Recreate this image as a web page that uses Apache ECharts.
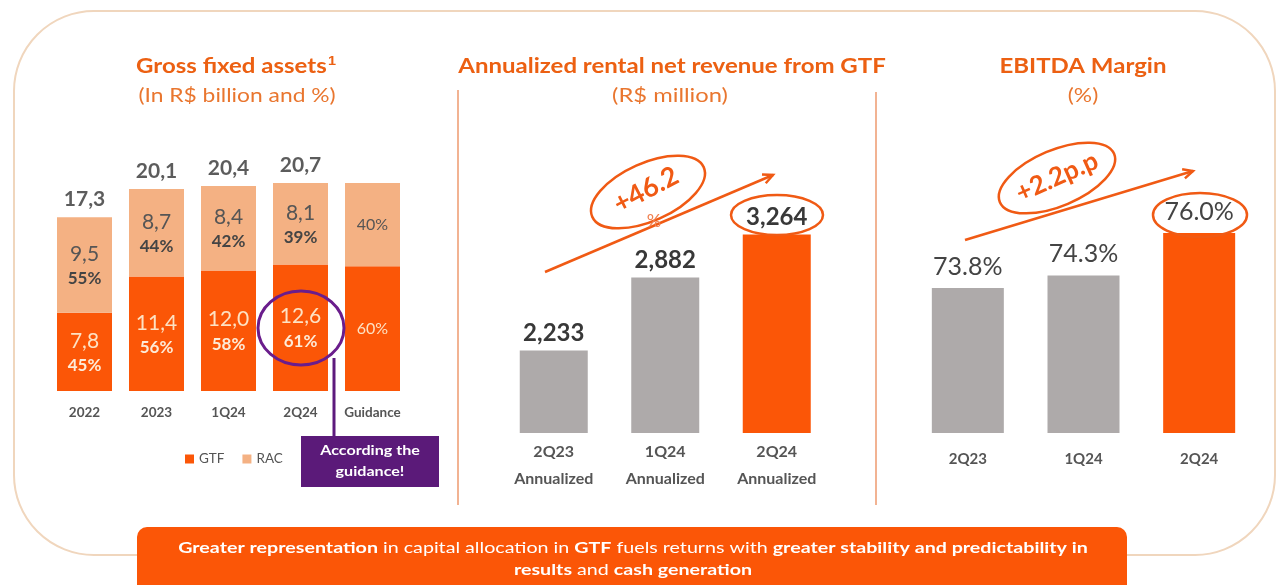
<!DOCTYPE html>
<html>
<head>
<meta charset="utf-8">
<script src="https://cdn.jsdelivr.net/npm/echarts@6/dist/echarts.min.js"></script>
<style>
  html, body { margin: 0; padding: 0; background: #fff; }
  #main { width: 1279px; height: 585px; }
</style>
</head>
<body>
<div id="main"></div>
<script>
// gross fixed assets (R$ billion)
var assetCats = ['2022', '2023', '1Q24', '2Q24', 'Guidance'];
var gtfValues = [7.8, 11.4, 12.0, 12.6, 12.42];
var racValues = [9.5, 8.7, 8.4, 8.1, 8.28];
var gtfPct = ['45%', '56%', '58%', '61%', '60%'];
var racPct = ['55%', '44%', '42%', '39%', '40%'];
var assetTotals = [17.3, 20.1, 20.4, 20.7, '-'];

// annualized rental net revenue (R$ million)
var revCats = ['2Q23', '1Q24', '2Q24'];
var revValues = [2233, 2882, 3264];

// ebitda margin (%)
var marginCats = ['2Q23', '1Q24', '2Q24'];
var marginValues = [73.8, 74.3, 76.0];

var ORANGE = '#fb5607';
var PEACH = '#f4b183';
var GREY = '#aeaaaa';
var TITLE = '#ec6012';
var FONT = 'Lato, "Open Sans", sans-serif';

function comma(v) { return Number(v).toFixed(1).replace('.', ','); }
function thousands(v) { return String(v).replace(/\B(?=(\d{3})+(?!\d))/g, ','); }

var chart = echarts.init(document.getElementById('main'));

// arrow helper: line + head
function arrow(x1, y1, x2, y2) {
    var a = Math.atan2(y2 - y1, x2 - x1), L = 11, w = 0.45;
    return [
        { type: 'line', shape: { x1: x1, y1: y1, x2: x2, y2: y2 }, style: { stroke: '#f05a14', lineWidth: 2.5 }, z: 20 },
        { type: 'polyline', shape: { points: [
            [x2 - L * Math.cos(a - w), y2 - L * Math.sin(a - w)], [x2, y2],
            [x2 - L * Math.cos(a + w), y2 - L * Math.sin(a + w)]] },
          style: { stroke: '#f05a14', lineWidth: 2.5, fill: null }, z: 20 }
    ];
}
function ring(cx, cy, rx, ry, rot, color, lw) {
    return { type: 'ellipse', x: cx, y: cy, rotation: rot, shape: { cx: 0, cy: 0, rx: rx, ry: ry },
        style: { fill: null, stroke: color, lineWidth: lw }, z: 20 };
}
// text that is a bit wider than the font, like the source slide
function wideText(x, y, text, font, fill, sx, extra) {
    var el = { type: 'text', x: x, y: y, scaleX: sx || 1.2, z: 21,
        style: Object.assign({ text: text, font: font, fill: fill, align: 'center', verticalAlign: 'middle' }, extra || {}) };
    return el;
}

var graphics = [
    // outer frame
    { type: 'rect', shape: { x: 14, y: 11, width: 1261, height: 544, r: 80 },
      style: { fill: null, stroke: '#f0d6bd', lineWidth: 2 }, z: 0 },
    // separators
    { type: 'line', shape: { x1: 458, y1: 90, x2: 458, y2: 505 }, style: { stroke: '#e9804a', lineWidth: 1.2 } },
    { type: 'line', shape: { x1: 876, y1: 92, x2: 876, y2: 505 }, style: { stroke: '#e9804a', lineWidth: 1.2 } },
    // titles
    wideText(236, 67, 'Gross fixed assets{s|1}', 'bold 20px ' + FONT, TITLE, 1.2,
        { rich: { s: { fontSize: 12, fontWeight: 'bold', fill: TITLE, verticalAlign: 'top', padding: [0, 0, 10, 1] } } }),
    wideText(237, 96, '(In R$ billion and %)', '19px ' + FONT, '#e9762f', 1.2),
    wideText(672, 67, 'Annualized rental net revenue from GTF', 'bold 20px ' + FONT, TITLE, 1.2),
    wideText(670, 96, '(R$ million)', '19px ' + FONT, '#e9762f', 1.25),
    wideText(1083, 67, 'EBITDA Margin', 'bold 20px ' + FONT, TITLE, 1.2),
    wideText(1083, 96, '(%)', '19px ' + FONT, '#e9762f', 1.2),
    // middle annotation
    ring(648, 192, 61, 29, 0.42, '#f05a14', 2.5),
    { type: 'text', x: 646, y: 190, rotation: 0.48, style: { text: '+46.2', font: 'bold 27px ' + FONT, fill: '#f05a14', align: 'center', verticalAlign: 'middle' }, z: 21 },
    { type: 'text', x: 654, y: 221, style: { text: '%', font: '18px ' + FONT, fill: '#f08050', align: 'center', verticalAlign: 'middle' }, z: 21 },
    ring(777, 215, 46, 20, 0, '#f05a14', 2.5),
    // right annotation
    ring(1057, 178, 62, 28, 0.4, '#f05a14', 2.5),
    { type: 'text', x: 1057, y: 177, rotation: 0.42, style: { text: '+2.2p.p', font: 'bold 26px ' + FONT, fill: '#f05a14', align: 'center', verticalAlign: 'middle' }, z: 21 },
    ring(1200, 215, 47, 22, 0, '#f05a14', 2.5),
    // purple callout
    ring(301, 328, 43, 37, 0, '#6a1d8c', 3),
    { type: 'line', shape: { x1: 334, y1: 358, x2: 334, y2: 437 }, style: { stroke: '#5d1a7d', lineWidth: 3 }, z: 20 },
    { type: 'rect', shape: { x: 301, y: 436, width: 138, height: 51 }, style: { fill: '#5b1a79' }, z: 20 },
    wideText(370, 461, 'According the\nguidance!', 'bold 14px ' + FONT, '#fff', 1.15, { lineHeight: 21 }),
    // bottom banner
    { type: 'rect', shape: { x: 137, y: 527, width: 990, height: 70, r: 10 }, style: { fill: ORANGE }, z: 5 },
    wideText(633, 559,
        '{b|Greater representation} in capital allocation in {b|GTF} fuels returns with {b|greater stability and predictability in}\n{b|results} and {b|cash generation}',
        '15px ' + FONT, '#fff', 1.31,
        { rich: { b: { font: 'bold 15px ' + FONT, fill: '#fff' } }, lineHeight: 22 })
];
graphics = graphics.concat(arrow(545, 272, 773, 175), arrow(965, 240, 1193, 171));

var catLabel = { color: '#555', fontFamily: FONT, fontWeight: 'bold', interval: 0 };

chart.setOption({
    animation: false,
    textStyle: { fontFamily: FONT },
    legend: {
        left: 180, top: 447, itemWidth: 9, itemHeight: 9, itemGap: 18, icon: 'rect',
        data: ['GTF', 'RAC'],
        textStyle: { color: '#555', fontSize: 13.5, fontFamily: FONT }
    },
    grid: [
        { left: 48.5, top: 170, width: 360, height: 221 },
        { left: 498, top: 208, width: 334.5, height: 225 },
        { left: 910, top: 208, width: 347, height: 225 }
    ],
    xAxis: [
        { gridIndex: 0, type: 'category', data: assetCats, axisLine: { show: false }, axisTick: { show: false },
          axisLabel: Object.assign({ margin: 15, fontSize: 13.5 }, catLabel) },
        { gridIndex: 1, type: 'category', data: revCats, axisLine: { show: false }, axisTick: { show: false },
          axisLabel: Object.assign({ margin: 5, lineHeight: 27, fontSize: 16,
              formatter: function (v) { return v + '\nAnnualized'; } }, catLabel) },
        { gridIndex: 2, type: 'category', data: marginCats, axisLine: { show: false }, axisTick: { show: false },
          axisLabel: Object.assign({ margin: 19, fontSize: 15 }, catLabel) }
    ],
    yAxis: [
        { gridIndex: 0, type: 'value', min: 0, max: 22, show: false, splitLine: { show: false } },
        { gridIndex: 1, type: 'value', min: 1500, max: 3500, show: false, splitLine: { show: false } },
        { gridIndex: 2, type: 'value', min: 68, max: 77, show: false, splitLine: { show: false } }
    ],
    series: [
        {
            name: 'GTF', type: 'bar', stack: 'a', xAxisIndex: 0, yAxisIndex: 0, barWidth: 55,
            itemStyle: { color: ORANGE }, data: gtfValues,
            label: {
                show: true, position: 'inside',
                formatter: function (p) {
                    return p.dataIndex === 4 ? '{g|' + gtfPct[4] + '}' : '{v|' + comma(p.value) + '}\n{p|' + gtfPct[p.dataIndex] + '}';
                },
                rich: {
                    v: { fontSize: 21, color: '#fde2c4', fontFamily: FONT, lineHeight: 27 },
                    p: { fontSize: 17, fontWeight: 'bold', color: '#fdebd8', fontFamily: FONT, lineHeight: 22 },
                    g: { fontSize: 16, color: '#fde2c4', fontFamily: FONT }
                }
            }
        },
        {
            name: 'RAC', type: 'bar', stack: 'a', xAxisIndex: 0, yAxisIndex: 0, barWidth: 55,
            itemStyle: { color: PEACH }, data: racValues,
            label: {
                show: true, position: 'inside',
                formatter: function (p) {
                    return p.dataIndex === 4 ? '{g|' + racPct[4] + '}' : '{v|' + comma(p.value) + '}\n{p|' + racPct[p.dataIndex] + '}';
                },
                rich: {
                    v: { fontSize: 21, color: '#555', fontFamily: FONT, lineHeight: 27 },
                    p: { fontSize: 17, fontWeight: 'bold', color: '#444', fontFamily: FONT, lineHeight: 22 },
                    g: { fontSize: 16, color: '#555', fontFamily: FONT }
                }
            }
        },
        {
            name: 'Total', type: 'scatter', xAxisIndex: 0, yAxisIndex: 0, symbolSize: 1,
            itemStyle: { color: 'rgba(0,0,0,0)' }, data: assetTotals,
            label: { show: true, position: 'top', distance: 7, formatter: function (p) { return comma(p.value); },
                fontSize: 21, fontWeight: 'bold', color: '#333', fontFamily: FONT }
        },
        {
            name: 'Revenue', type: 'bar', xAxisIndex: 1, yAxisIndex: 1, barWidth: 68,
            data: revValues.map(function (v, i) { return { value: v, itemStyle: { color: i === 2 ? ORANGE : GREY } }; }),
            label: { show: true, position: 'top', distance: 5, formatter: function (p) { return thousands(p.value); },
                fontSize: 24, fontWeight: 'bold', color: '#383838', fontFamily: FONT }
        },
        {
            name: 'Margin', type: 'bar', xAxisIndex: 2, yAxisIndex: 2, barWidth: 72,
            data: marginValues.map(function (v, i) { return { value: v, itemStyle: { color: i === 2 ? ORANGE : GREY } }; }),
            label: { show: true, position: 'top', distance: 9, formatter: function (p) { return p.value.toFixed(1) + '%'; },
                fontSize: 25, color: '#444', fontFamily: FONT }
        }
    ],
    graphic: graphics
});
</script>
</body>
</html>
